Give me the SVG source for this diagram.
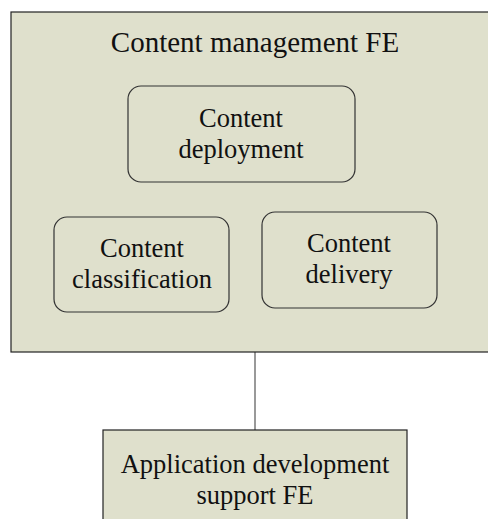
<svg xmlns="http://www.w3.org/2000/svg" width="488" height="519" viewBox="0 0 488 519">
<style>
.box{fill:#dfe0cc;stroke:#222;stroke-width:1.2}
.rbox{fill:#dfe0cc;stroke:#333;stroke-width:1.2}
text{font-family:"Liberation Serif","Times New Roman",serif;font-size:26.5px;fill:#111;text-anchor:middle}
.title{font-size:29px}
.conn{stroke:#555;stroke-width:1.2;fill:none}
</style>
<g id="connectors">
<line class="conn" x1="255" y1="352" x2="255" y2="430"/>
</g>
<g id="content-management-fe">
<rect class="box" x="11" y="12" width="490" height="340"/>
<text class="title" x="255" y="52">Content management FE</text>
</g>
<g id="content-deployment">
<rect class="rbox" x="128" y="86" width="227" height="96" rx="13"/>
<text x="241" y="127">Content</text>
<text x="241" y="158">deployment</text>
</g>
<g id="content-classification">
<rect class="rbox" x="54" y="217" width="175" height="95" rx="13"/>
<text x="142" y="257">Content</text>
<text x="142" y="288">classification</text>
</g>
<g id="content-delivery">
<rect class="rbox" x="262" y="212" width="175" height="96" rx="13"/>
<text x="349" y="252">Content</text>
<text x="349" y="283">delivery</text>
</g>
<g id="application-development-support-fe">
<rect class="box" x="103" y="430" width="304" height="100"/>
<text x="255" y="473">Application development</text>
<text x="255" y="504">support FE</text>
</g>
</svg>
